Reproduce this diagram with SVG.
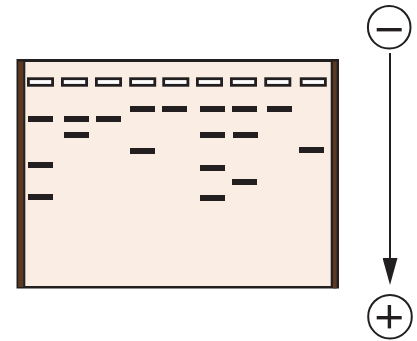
<svg xmlns="http://www.w3.org/2000/svg" width="417" height="341" viewBox="0 0 417 341">
<defs>
<style>
.well{fill:#ffffff;stroke:#231f20;stroke-width:2.8}
.band{fill:#231f20}
.ring{fill:none;stroke:#231f20;stroke-width:2}
.sign{fill:#231f20}
.wire{stroke:#231f20;stroke-width:2;fill:none}
</style>
<marker id="arrow" viewBox="0 0 27 15" markerWidth="27" markerHeight="15" refX="12" refY="7.5" markerUnits="userSpaceOnUse" orient="auto">
<path d="M0,0 L27,7.5 L0,15 Z" fill="#231f20"/>
</marker>
</defs>
<rect width="417" height="341" fill="#ffffff"/>
<g id="gel">
<rect x="16.5" y="59" width="322.5" height="229.5" fill="#231f20"/>
<rect x="18.3" y="61.5" width="5" height="225.5" fill="#5c3a21"/>
<rect x="333" y="61.5" width="3.7" height="227" fill="#5c3a21"/>
<rect x="25.3" y="62" width="305.4" height="224" fill="#f9ede4"/>
</g>
<g id="wells">
<rect class="well" x="28.4" y="78.7" width="24.2" height="6.6"/>
<rect class="well" x="62.4" y="78.7" width="24.2" height="6.6"/>
<rect class="well" x="96.4" y="78.7" width="24.2" height="6.6"/>
<rect class="well" x="130.6" y="78.7" width="24.2" height="6.6"/>
<rect class="well" x="163.7" y="78.7" width="24.2" height="6.6"/>
<rect class="well" x="197.4" y="78.7" width="24.2" height="6.6"/>
<rect class="well" x="231.4" y="78.7" width="24.2" height="6.6"/>
<rect class="well" x="265.7" y="78.7" width="24.2" height="6.6"/>
<rect class="well" x="301.2" y="78.7" width="24.2" height="6.6"/>
</g>
<g id="lane1"><rect class="band" x="28" y="116" width="25" height="6"/><rect class="band" x="28" y="162" width="25" height="6"/><rect class="band" x="28" y="194" width="25" height="6"/></g>
<g id="lane2"><rect class="band" x="64" y="116" width="25" height="6"/><rect class="band" x="64" y="132" width="25" height="6"/></g>
<g id="lane3"><rect class="band" x="96" y="116" width="25" height="6"/></g>
<g id="lane4"><rect class="band" x="130" y="106" width="25" height="6"/><rect class="band" x="130" y="148" width="25" height="6"/></g>
<g id="lane5"><rect class="band" x="162" y="106" width="25" height="6"/></g>
<g id="lane6"><rect class="band" x="200" y="106" width="25" height="6"/><rect class="band" x="200" y="132" width="25" height="6"/><rect class="band" x="200" y="165" width="25" height="6"/><rect class="band" x="200" y="195" width="25" height="6"/></g>
<g id="lane7"><rect class="band" x="232" y="106" width="25" height="6"/><rect class="band" x="233" y="132" width="25" height="6"/><rect class="band" x="232" y="179" width="25" height="6"/></g>
<g id="lane8"><rect class="band" x="267" y="106" width="25" height="6"/></g>
<g id="lane9"><rect class="band" x="299" y="147" width="25" height="6"/></g>
<g id="cathode">
<circle class="ring" cx="389.2" cy="27.3" r="21.3"/>
<rect class="sign" x="376.7" y="28" width="25" height="3.4"/>
</g>
<g id="anode">
<circle class="ring" cx="390" cy="316.7" r="21.8"/>
<rect class="sign" x="376.7" y="316" width="25" height="3.4"/>
<rect class="sign" x="387.7" y="305" width="3.4" height="23.4"/>
</g>
<g id="connectors">
<line class="wire" x1="390" y1="53" x2="390" y2="270" marker-end="url(#arrow)"/>
</g>
</svg>
